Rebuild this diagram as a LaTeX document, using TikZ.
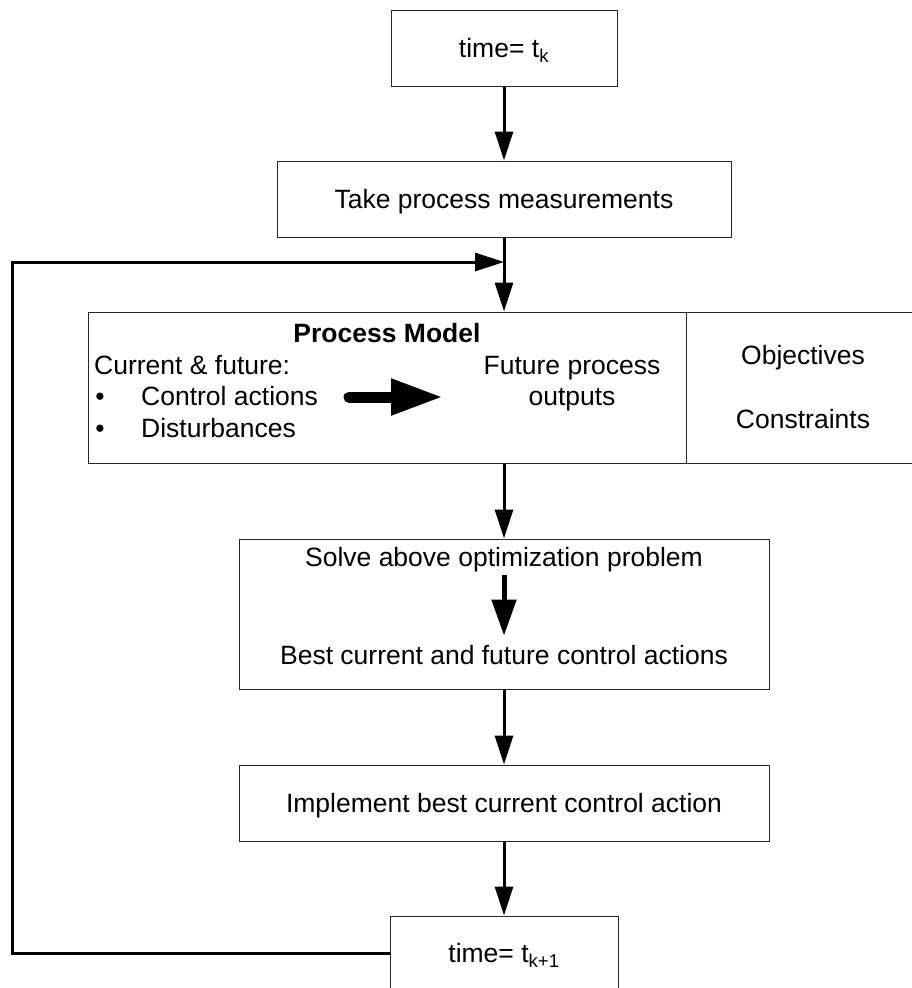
\documentclass[tikz,border=0pt]{standalone}
\usepackage{fontspec}
\setmainfont{Liberation Sans}
\usetikzlibrary{arrows.meta}
\begin{document}
\begin{tikzpicture}[x=1pt,y=-1pt,
  box/.style={draw=black!85,line width=1pt,inner sep=0pt,
    font=\fontsize{26.5}{31}\selectfont,text height=19pt,text depth=0pt},
  txt/.style={inner sep=0pt,anchor=base,font=\fontsize{26.5}{31}\selectfont},
  flow/.style={line width=3pt,-{Triangle[length=29pt,width=18pt]}},
]
\useasboundingbox (0,0) rectangle (911,988);

% boxes
\node[box,minimum width=226pt,minimum height=76pt] (t1) at (504,48) {time= t\textsubscript{k}};
\node[box,minimum width=454pt,minimum height=76pt] (meas) at (504,199) {Take process measurements};
\node[box,minimum width=598pt,minimum height=151pt] (model) at (387,387.5) {};
\node[box,minimum width=234pt,minimum height=151pt] (obj) at (803,387.5) {};
\node[box,minimum width=530pt,minimum height=150pt] (solve) at (504,614) {};
\node[box,minimum width=530pt,minimum height=76pt] (impl) at (504,803) {Implement best current control action};
\node[box,minimum width=228pt,minimum height=74pt] (t2) at (504,953) {time= t\textsubscript{k+1}};

% texts in the model box
\node[txt,font=\fontsize{26.5}{31}\selectfont\bfseries] (pm) at (387,342) {Process Model};
\node[txt,anchor=base west] (cf) at (94,374) {Current \& future:};
\node[txt] (b1) at (100,405) {\textbullet};
\node[txt,anchor=base west] (ca) at (141,405) {Control actions};
\node[txt] (b2) at (100,437) {\textbullet};
\node[txt,anchor=base west] (dist) at (141,437) {Disturbances};
\node[txt] (fp) at (572,374) {Future process};
\node[txt] (out) at (572,405) {outputs};
\node[txt] (objt) at (803,364) {Objectives};
\node[txt] (cons) at (803,428) {Constraints};

% texts in the solve box
\node[txt] (sv1) at (504,566) {Solve above optimization problem};
\node[txt] (sv2) at (504,664) {Best current and future control actions};

% connectors
\coordinate (j) at (504,262);
\coordinate (fbl) at (12,953);
\coordinate (fa1) at (349,397);
\coordinate (fa2) at (443,397);

\draw[flow] (t1.south) -- (meas.north);
\draw[flow] (meas.south) -- (meas.south |- model.north);
\draw[flow] (t2.west) -- (fbl) |- (j);
\draw[flow] (meas.south |- model.south) -- (solve.north);
\draw[line width=5pt,-{Triangle[length=36pt,width=24pt]},shorten <=3pt,shorten >=9pt] (sv1.south) -- (sv2.north);
\draw[flow] (solve.south) -- (impl.north);
\draw[flow] (impl.south) -- (t2.north);
\draw[line width=11pt,line cap=round,-{Triangle[length=52pt,width=34pt]}] (fa1) -- (fa2);
\end{tikzpicture}
\end{document}
